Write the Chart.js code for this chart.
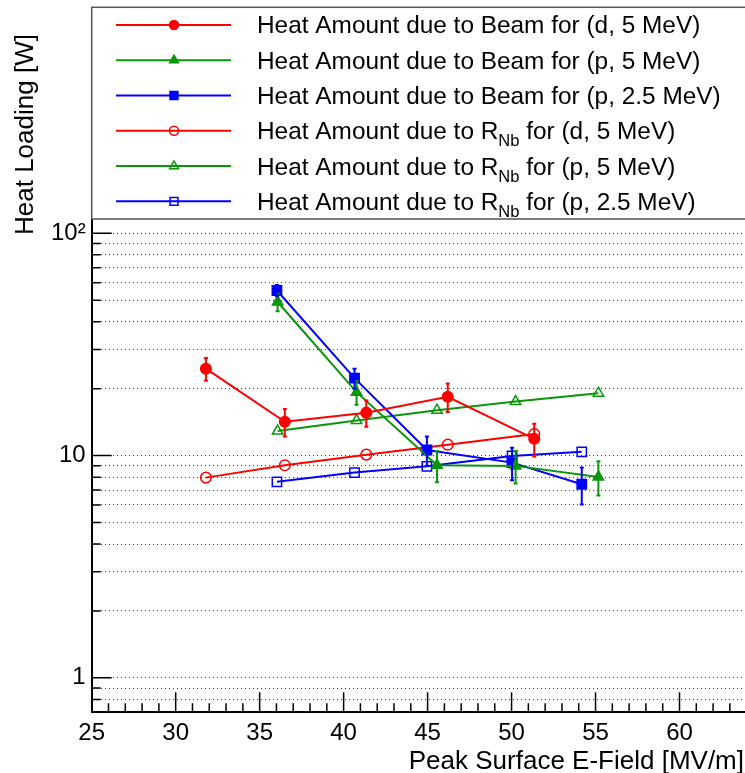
<!DOCTYPE html>
<html lang="en">
<head>
<meta charset="UTF-8" />
<title>Heat Loading vs Peak Surface E-Field</title>
<script src="https://cdn.jsdelivr.net/npm/chart.js"></script>
<style>
  html, body { margin: 0; padding: 0; background: #fff; }
  canvas { display: block; }
</style>
</head>
<body>
<canvas id="graph" width="745" height="773"></canvas>
<script>
const FONT = '"Liberation Sans", Arial, sans-serif';

// x positions (peak surface E-field, MV/m)
const fieldD5 = [31.8, 36.5, 41.35, 46.2, 51.35];
const fieldP5 = [36.07, 40.77, 45.56, 50.24, 55.17];
const fieldP25 = [36.03, 40.65, 44.96, 50.03, 54.18];

// heat due to beam [W] and errors
const beamD5 = [24.6, 14.2, 15.6, 18.4, 11.9];
const beamD5Err = [2.9, 2.0, 2.1, 2.7, 2.0];
const beamP5 = [49.1, 19.3, 9.04, 8.99, 8.02];
const beamP5Err = [4.5, 2.35, 1.45, 1.5, 1.4];
const beamP25 = [55.3, 22.3, 10.6, 9.3, 7.43];
const beamP25Err = [3.2, 2.3, 1.6, 1.55, 1.4];

// heat due to R_Nb [W]
const rnbD5 = [7.96, 9.04, 10.1, 11.2, 12.5];
const rnbP5 = [12.9, 14.4, 16.0, 17.5, 19.1];
const rnbP25 = [7.62, 8.39, 8.95, 9.97, 10.4];

const yTickValues = [0.8, 0.9, 1, 2, 3, 4, 5, 6, 7, 8, 9, 10, 20, 30, 40, 50, 60, 70, 80, 90, 100];
const yTickLabels = { 1: '1', 10: '10', 100: '10\u00B2' };
const xTickValues = [25, 30, 35, 40, 45, 50, 55, 60];

const legendLabels = [
  'Heat Amount due to Beam for (d, 5 MeV)',
  'Heat Amount due to Beam for (p, 5 MeV)',
  'Heat Amount due to Beam for (p, 2.5 MeV)',
  'Heat Amount due to R_{Nb} for (d, 5 MeV)',
  'Heat Amount due to R_{Nb} for (p, 5 MeV)',
  'Heat Amount due to R_{Nb} for (p, 2.5 MeV)'
];

const RED = '#ff0000', GREEN = '#0a960a', BLUE = '#0000ff';

function pts(xs, ys) {
  return xs.map((x, i) => ({ x: x, y: ys[i] }));
}

function series(label, xs, ys, color, style, filled, radius, errs) {
  return {
    label: label,
    data: pts(xs, ys),
    errors: errs || null,
    showLine: true,
    borderColor: color,
    backgroundColor: filled ? color : 'rgba(0,0,0,0)',
    borderWidth: 2,
    pointStyle: style,
    pointRadius: radius,
    pointBorderWidth: 1.5,
    pointBorderColor: color,
    pointBackgroundColor: filled ? color : 'rgba(0,0,0,0)',
    tension: 0,
    fill: false
  };
}

const datasets = [
  series(legendLabels[0], fieldD5, beamD5, RED, 'circle', true, 5.3, beamD5Err),
  series(legendLabels[1], fieldP5, beamP5, GREEN, 'triangle', true, 6, beamP5Err),
  series(legendLabels[2], fieldP25, beamP25, BLUE, 'rect', true, 6.6, beamP25Err),
  series(legendLabels[3], fieldD5, rnbD5, RED, 'circle', false, 5.3),
  series(legendLabels[4], fieldP5, rnbP5, GREEN, 'triangle', false, 6),
  series(legendLabels[5], fieldP25, rnbP25, BLUE, 'rect', false, 6.6)
];

// vertical error bars, placed through the scales
const errorBars = {
  id: 'errorBars',
  afterDatasetsDraw(chart) {
    const { ctx, scales: { x, y } } = chart;
    ctx.save();
    chart.data.datasets.forEach(ds => {
      if (!ds.errors) return;
      ctx.strokeStyle = ds.borderColor;
      ctx.lineWidth = 2;
      ds.data.forEach((p, i) => {
        const px = x.getPixelForValue(p.x);
        const top = y.getPixelForValue(p.y + ds.errors[i]);
        const bot = y.getPixelForValue(p.y - ds.errors[i]);
        ctx.beginPath();
        ctx.moveTo(px, top); ctx.lineTo(px, bot);
        ctx.moveTo(px - 2, top); ctx.lineTo(px + 2, top);
        ctx.moveTo(px - 2, bot); ctx.lineTo(px + 2, bot);
        ctx.stroke();
      });
    });
    ctx.restore();
  }
};

// ROOT style inner tick marks, legend box and axis titles
const frameDecor = {
  id: 'frameDecor',
  afterDraw(chart) {
    const { ctx, chartArea: a, scales: { x, y } } = chart;
    ctx.save();
    ctx.strokeStyle = '#000';
    ctx.lineWidth = 1.5;
    ctx.beginPath();
    for (let v = Math.ceil(x.min); v <= x.max; v++) {
      const px = x.getPixelForValue(v);
      const len = v % 5 === 0 ? 20 : 9;
      ctx.moveTo(px, a.bottom); ctx.lineTo(px, a.bottom - len);
    }
    yTickValues.forEach(v => {
      const py = y.getPixelForValue(v);
      const len = yTickLabels[v] ? 20 : 9;
      ctx.moveTo(a.left, py); ctx.lineTo(a.left + len, py);
    });
    ctx.stroke();

    // legend box
    const box = { left: a.left, top: 7.3, right: chart.width + 2, bottom: a.top };
    ctx.fillStyle = '#fff';
    ctx.fillRect(box.left, box.top, box.right - box.left, box.bottom - box.top);
    ctx.strokeStyle = '#555';
    ctx.lineWidth = 1.5;
    ctx.strokeRect(box.left, box.top, box.right - box.left, box.bottom - box.top);

    const rowH = (box.bottom - box.top) / chart.data.datasets.length;
    chart.data.datasets.forEach((ds, i) => {
      const cy = box.top + rowH * (i + 0.5);
      ctx.strokeStyle = ds.borderColor;
      ctx.lineWidth = 2;
      ctx.beginPath();
      ctx.moveTo(116, cy); ctx.lineTo(231, cy);
      ctx.stroke();
      ctx.fillStyle = ds.pointBackgroundColor;
      ctx.strokeStyle = ds.pointBorderColor;
      ctx.lineWidth = ds.pointBorderWidth;
      Chart.helpers.drawPoint(ctx, {
        pointStyle: ds.pointStyle, radius: ds.pointRadius * 0.85, rotation: 0, borderWidth: ds.pointBorderWidth
      }, 174, cy);

      // text with optional _{sub}
      ctx.fillStyle = '#000';
      ctx.textBaseline = 'alphabetic';
      ctx.textAlign = 'left';
      const parts = ds.label.split(/_\{|\}/);
      let tx = 257;
      const base = cy + 8.5;
      parts.forEach((part, k) => {
        const sub = k % 2 === 1;
        ctx.font = (sub ? '16.5px ' : '24.4px ') + FONT;
        ctx.fillText(part, tx, sub ? base + 7 : base);
        tx += ctx.measureText(part).width;
      });
    });

    // axis titles
    ctx.fillStyle = '#000';
    ctx.font = '26px ' + FONT;
    ctx.textAlign = 'right';
    ctx.textBaseline = 'alphabetic';
    ctx.fillText('Peak Surface E-Field [MV/m]', 744, 769);

    ctx.translate(33, 235);
    ctx.rotate(-Math.PI / 2);
    ctx.textAlign = 'left';
    ctx.fillText('Heat Loading [W]', 0, 0);
    ctx.restore();
  }
};

new Chart(document.getElementById('graph').getContext('2d'), {
  type: 'scatter',
  data: { datasets: datasets },
  plugins: [errorBars, frameDecor],
  options: {
    responsive: false,
    animation: false,
    layout: { autoPadding: false, padding: { top: 219, left: 0, right: 0, bottom: 0 } },
    plugins: {
      legend: { display: false },
      tooltip: { enabled: false }
    },
    scales: {
      x: {
        type: 'linear',
        min: 25,
        max: 63.9,
        afterBuildTicks: s => { s.ticks = xTickValues.map(v => ({ value: v })); },
        afterFit: s => { s.height = 60.7; },
        grid: { display: false, drawTicks: false },
        border: { display: true, color: '#000', width: 2 },
        ticks: {
          color: '#000',
          font: { family: FONT, size: 24 },
          padding: 7,
          maxRotation: 0,
          autoSkip: false
        }
      },
      y: {
        type: 'logarithmic',
        min: 0.721,
        max: 116,
        afterBuildTicks: s => { s.ticks = yTickValues.map(v => ({ value: v })); },
        afterFit: s => { s.width = 91.7; },
        grid: { color: '#333', lineWidth: 1, drawTicks: false },
        border: { display: true, color: '#000', width: 2, dash: [1, 3] },
        ticks: {
          color: '#000',
          font: { family: FONT, size: 24 },
          padding: 6,
          autoSkip: false,
          callback: v => yTickLabels[v] || ''
        }
      }
    }
  }
});
</script>
</body>
</html>
